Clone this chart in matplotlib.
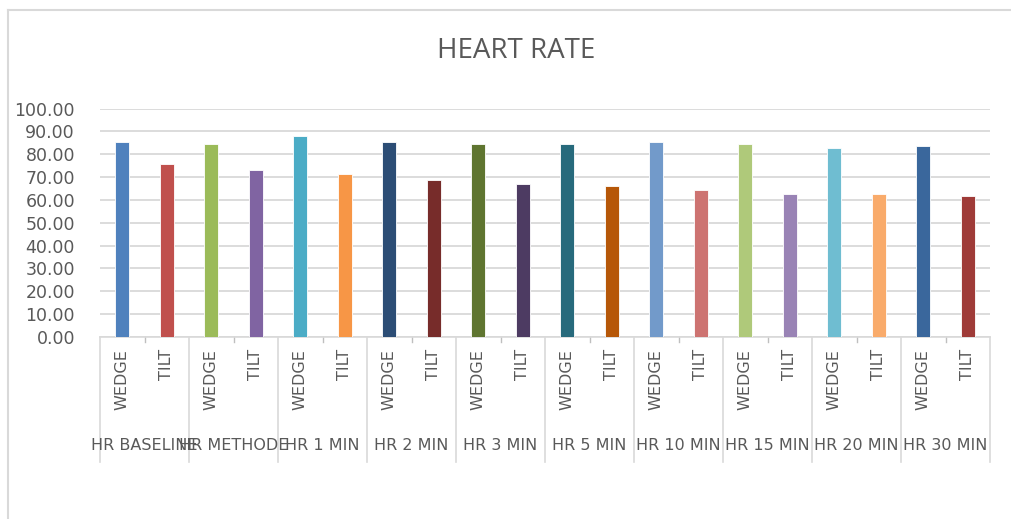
import matplotlib
matplotlib.use("Agg")
import matplotlib.pyplot as plt
from matplotlib.lines import Line2D
import numpy as np

plt.rcParams['font.family'] = ['DejaVu Sans']

# Time points (outer category level) and methods (inner level)
time_points = ["HR BASELINE", "HR METHODE", "HR 1 MIN", "HR 2 MIN", "HR 3 MIN",
               "HR 5 MIN", "HR 10 MIN", "HR 15 MIN", "HR 20 MIN", "HR 30 MIN"]
methods = ["WEDGE", "TILT"]

wedge_hr = [85.4, 84.6, 88.1, 85.4, 84.5, 84.5, 85.4, 84.5, 82.7, 83.4]
tilt_hr = [75.8, 73.1, 71.2, 68.7, 66.8, 65.9, 64.4, 62.4, 62.4, 61.5]

bar_colors = [
    "#4F81BD", "#C0504D", "#9BBB59", "#8064A2", "#4BACC6", "#F79646",
    "#2C4D75", "#772C2A", "#5F7530", "#4D3B62", "#276A7C", "#B65708",
    "#729ACA", "#CD7371", "#AFC97A", "#9983B5", "#6FBDD1", "#F9AB6B",
    "#3A679C", "#9F3B38",
]

W, H = 1011, 519
fig = plt.figure(figsize=(W / 100, H / 100), dpi=100)
fig.patch.set_facecolor("white")

# chart frame
fig.add_artist(Line2D([8 / W, 8 / W], [0, 1 - 10 / H], transform=fig.transFigure,
                      color="#D9D9D9", lw=1.5))
fig.add_artist(Line2D([8 / W, 1], [1 - 10 / H, 1 - 10 / H], transform=fig.transFigure,
                      color="#D9D9D9", lw=1.5))

left, right, bottom, top = 100, 990, 337, 108.5
ax = fig.add_axes([left / W, 1 - bottom / H, (right - left) / W, (bottom - top) / H])

n = len(time_points)
values = []
for w, t in zip(wedge_hr, tilt_hr):
    values += [w, t]
x = np.arange(2 * n) + 0.5

ax.bar(x, values, width=0.32, color=bar_colors, edgecolor="white", linewidth=0.6, zorder=3)

ax.set_xlim(0, 2 * n)
ax.set_ylim(0, 100)
ax.set_yticks(np.arange(0, 101, 10))
ax.set_yticklabels([f"{v:.2f}" for v in np.arange(0, 101, 10)])
ax.tick_params(axis="y", length=0, pad=18, labelsize=12.5, labelcolor="#595959")
ax.set_xticks([])
ax.grid(axis="y", color="#D9D9D9", lw=1.3, zorder=0)
for s in ["top", "right", "left"]:
    ax.spines[s].set_visible(False)
ax.spines["bottom"].set_color("#D9D9D9")
ax.spines["bottom"].set_linewidth(1.2)

# multi-level category axis
xt = ax.get_xaxis_transform()
px = 1 / (bottom - top)  # one pixel in axes-fraction units
sep_bottom = -(462 - bottom) * px
for i in range(n + 1):
    ax.add_line(Line2D([2 * i, 2 * i], [0, sep_bottom], transform=xt, clip_on=False,
                       color="#D9D9D9", lw=1.2))
for i in range(n):
    ax.add_line(Line2D([2 * i + 1, 2 * i + 1], [0, -5 * px], transform=xt, clip_on=False,
                       color="#BFBFBF", lw=1.0))

for j, xv in enumerate(x):
    ax.text(xv, -12 * px, methods[j % 2], transform=xt, rotation=90, ha="center",
            va="top", fontsize=11.5, color="#595959")

for i, name in enumerate(time_points):
    ax.text(2 * i + 1, -(446 - bottom) * px, name, transform=xt, ha="center",
            va="center", fontsize=11.5, color="#595959")

fig.text(516 / W, 1 - 51 / H, "HEART RATE", ha="center", va="center",
         fontsize=20, color="#595959", family="Open Sans")

fig.savefig("out.png", dpi=100, facecolor="white")
